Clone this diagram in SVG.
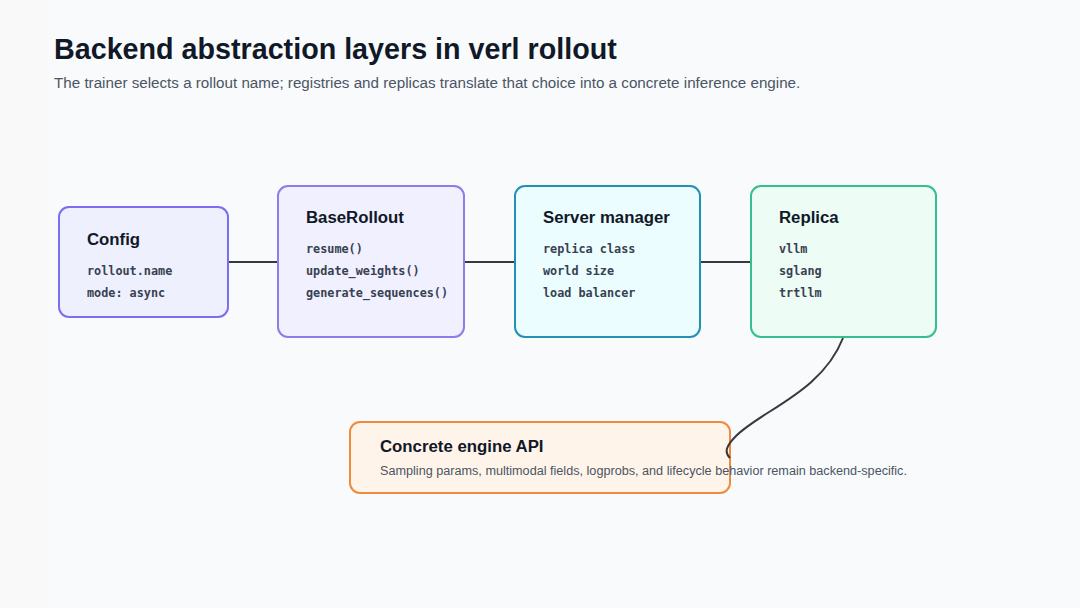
<svg xmlns="http://www.w3.org/2000/svg" width="1080" height="608" viewBox="0 0 1080 608">
<style>
.title{font-family:"Liberation Sans",Arial,sans-serif;font-weight:bold;font-size:28.7px;fill:#111827}
.sub{font-family:"Liberation Sans",Arial,sans-serif;font-size:15.2px;fill:#4b5563}
.nt{font-family:"Liberation Sans",Arial,sans-serif;font-weight:bold;font-size:16.8px;fill:#111827}
.mono{font-family:"DejaVu Sans Mono",monospace;font-weight:bold;font-size:11.8px;fill:#374151}
.desc{font-family:"Liberation Sans",Arial,sans-serif;font-size:12.65px;fill:#4b5563}
.box{stroke-width:2}
.conn{fill:none;stroke:#333a40;stroke-width:2}
</style>
<rect x="0" y="0" width="1080" height="608" fill="#f8fafc"/>
<rect x="0" y="0" width="48" height="608" fill="#f9f9f9"/>
<text class="title" x="54" y="59">Backend abstraction layers in verl rollout</text>
<text class="sub" x="54" y="88">The trainer selects a rollout name; registries and replicas translate that choice into a concrete inference engine.</text>
<g id="config">
<rect class="box" x="59" y="207" width="169" height="110" rx="10" fill="#eef0fe" stroke="#7b6ef0"/>
<text class="nt" x="87" y="245">Config</text>
<text class="mono" x="87" y="275">rollout.name</text>
<text class="mono" x="87" y="297">mode: async</text>
</g>
<g id="baserollout">
<rect class="box" x="278" y="186" width="186" height="151" rx="10" fill="#f0f0fe" stroke="#8a7fe8"/>
<text class="nt" x="306" y="223">BaseRollout</text>
<text class="mono" x="306" y="253">resume()</text>
<text class="mono" x="306" y="275">update_weights()</text>
<text class="mono" x="306" y="297">generate_sequences()</text>
</g>
<g id="server-manager">
<rect class="box" x="515" y="186" width="185" height="151" rx="10" fill="#ebfdfe" stroke="#2391b3"/>
<text class="nt" x="543" y="223">Server manager</text>
<text class="mono" x="543" y="253">replica class</text>
<text class="mono" x="543" y="275">world size</text>
<text class="mono" x="543" y="297">load balancer</text>
</g>
<g id="replica">
<rect class="box" x="751" y="186" width="185" height="151" rx="10" fill="#edfcf5" stroke="#35bf8c"/>
<text class="nt" x="779" y="223">Replica</text>
<text class="mono" x="779" y="253">vllm</text>
<text class="mono" x="779" y="275">sglang</text>
<text class="mono" x="779" y="297">trtllm</text>
</g>
<g id="concrete-engine-api">
<rect class="box" x="350" y="422" width="380" height="71" rx="10" fill="#fff4ea" stroke="#f08b3c"/>
<text class="nt" x="380" y="452">Concrete engine API</text>
<text class="desc" x="380" y="475">Sampling params, multimodal fields, logprobs, and lifecycle behavior remain backend-specific.</text>
</g>
<g id="connectors">
<line class="conn" x1="229" y1="262" x2="277" y2="262"/>
<line class="conn" x1="465" y1="262" x2="514" y2="262"/>
<line class="conn" x1="701" y1="262" x2="750" y2="262"/>
<path class="conn" d="M843,338 C822,392 762,410 736,436 C726,446 724,452 730,458"/>
</g>
</svg>
